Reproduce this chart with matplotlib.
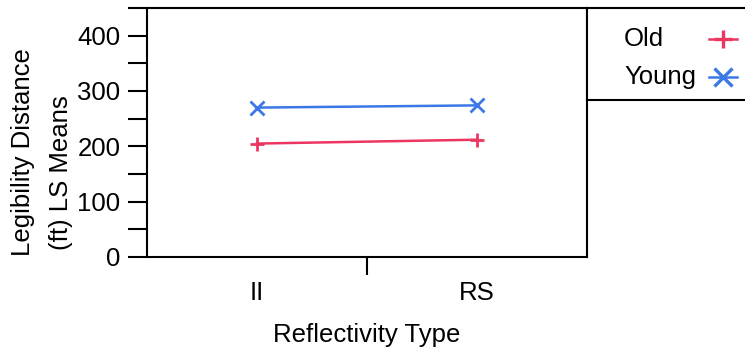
import matplotlib.pyplot as plt

plt.rcParams['font.family'] = ['Liberation Sans', 'DejaVu Sans']

# LS means by reflectivity type
types = ["II", "RS"]
groups = ["Old", "Young"]
old_means = [205, 212]
young_means = [270, 274]
colors = {"Old": "#ec3560", "Young": "#3a78e6"}
markers = {"Old": "+", "Young": "x"}
fs = 18.5

fig = plt.figure(figsize=(7.45, 3.5), dpi=100)
ax = fig.add_axes([147 / 745, (350 - 257) / 350, 440 / 745, 249 / 350])

xpos = [0.25, 0.75]
for name, vals in zip(groups, [old_means, young_means]):
    ax.plot(xpos, vals, color=colors[name], marker=markers[name], lw=1.8,
            ms=10, mew=2, label=name)

ax.set_xlim(0, 1)
ax.set_ylim(0, 450)
ax.set_yticks([0, 100, 200, 300, 400])
ax.set_yticks([50, 150, 250, 350, 450], minor=True)
ax.tick_params(axis='y', which='both', length=14, width=1.5, labelsize=fs,
               direction='out', pad=5)
ax.set_xticks([0.5])
ax.set_xticklabels([""])
ax.tick_params(axis='x', length=13, width=1.5)
for x, t in zip(xpos, types):
    ax.text(x, -0.095, t, transform=ax.transAxes, ha='center', va='top', fontsize=fs)

for s in ax.spines.values():
    s.set_linewidth(1.5)

ax.text(0.5, -0.265, "Reflectivity Type", transform=ax.transAxes,
        ha='center', va='top', fontsize=fs)

# two-line y axis title
fig.text(23 / 745, 1 - 152 / 350, "Legibility Distance", rotation=90,
         ha='center', va='center', fontsize=fs)
fig.text(61 / 745, 1 - 173 / 350, "(ft) LS Means", rotation=90,
         ha='center', va='center', fontsize=fs)

# legend panel to the right of the plot
lax = fig.add_axes([587 / 745, (350 - 100) / 350, 160 / 745, 92 / 350])
lax.set_xlim(0, 160)
lax.set_ylim(92, 0)
lax.set_xticks([])
lax.set_yticks([])
lax.spines['right'].set_visible(False)
for s in lax.spines.values():
    s.set_linewidth(1.5)
for i, name in enumerate(groups):
    y = 31 + 38 * i
    lax.text(37, y, name, ha='left', va='center', fontsize=fs)
    lax.plot([122, 150], [y, y], color=colors[name], lw=1.8)
    lax.plot([136], [y], color=colors[name], marker=markers[name], ms=13, mew=2.4)

fig.savefig("out.png", dpi=100)
